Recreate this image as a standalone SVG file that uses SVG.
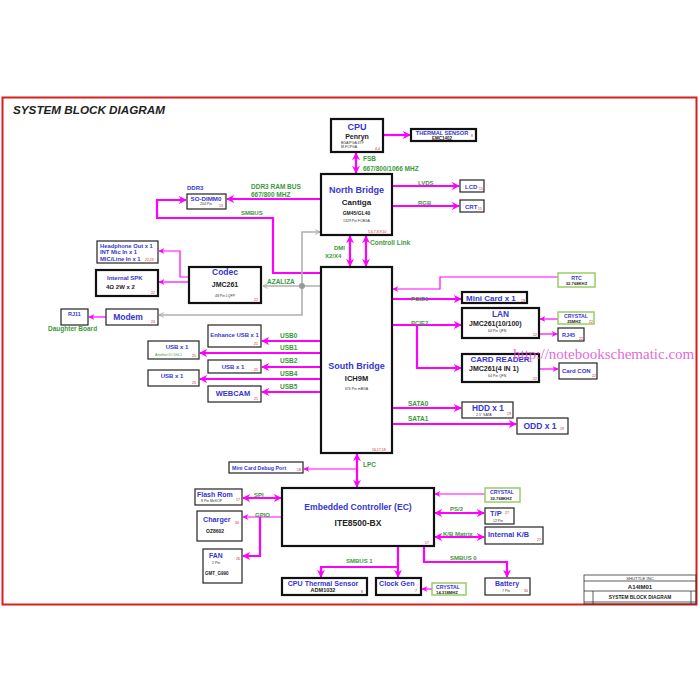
<svg xmlns="http://www.w3.org/2000/svg" width="700" height="700" viewBox="0 0 700 700">
<style>
text{font-family:"Liberation Sans",Arial,sans-serif;font-weight:bold}
.bx{fill:#fff;stroke:#222;stroke-width:1.2}
.bk{fill:#fff;stroke:#111;stroke-width:2.2}
.gb{fill:#fff;stroke:#9c6;stroke-width:1.5}
.b{fill:#3636d0}
.k{fill:#222}
.g{fill:#3a9a3a}
.r{fill:#d02020;font-size:3.5px;font-weight:normal}
.s{fill:#333;font-size:3.5px;font-weight:normal}
.n{font-weight:normal}
.wm{font-family:"Liberation Serif","Times New Roman",serif;font-weight:normal;font-size:15px;fill:#e050d0;opacity:0.85}
.m{fill:none;stroke:#f0f;stroke-width:2.2}
.mt{fill:none;stroke:#f0f;stroke-width:1.2}
.gr{fill:none;stroke:#b0b0b0;stroke-width:1.6}
</style>
<defs>
<marker id="a" viewBox="0 0 10 10" refX="9" refY="5" markerWidth="8" markerHeight="8" markerUnits="userSpaceOnUse" orient="auto-start-reverse"><path d="M0,0 L10,5 L0,10 L3,5 Z" fill="#f0f"/></marker>
<marker id="at" viewBox="0 0 10 10" refX="9" refY="5" markerWidth="6" markerHeight="6" markerUnits="userSpaceOnUse" orient="auto-start-reverse"><path d="M0,0 L10,5 L0,10 L3,5 Z" fill="#f0f"/></marker>
<marker id="ag" viewBox="0 0 10 10" refX="9" refY="5" markerWidth="6" markerHeight="6" markerUnits="userSpaceOnUse" orient="auto-start-reverse"><path d="M1,1 L9,5 L1,9" fill="none" stroke="#aaa" stroke-width="1.5"/></marker>
</defs>
<rect width="700" height="700" fill="#fff"/>
<rect x="2.5" y="97.5" width="694" height="507" fill="none" stroke="#d81e1e" stroke-width="2"/>
<text x="13" y="114" font-size="11.7" font-style="italic" fill="#222">SYSTEM BLOCK DIAGRAM</text>

<g id="connectors">
<path class="m" d="M383,135 H410" marker-end="url(#a)"/>
<path class="m" d="M356,153 V173" marker-start="url(#a)" marker-end="url(#a)"/>
<path class="m" d="M392,186 H459" marker-end="url(#a)"/>
<path class="m" d="M392,206 H459" marker-end="url(#a)"/>
<path class="m" d="M321,199 H227" marker-end="url(#a)"/>
<path class="m" d="M321,273 H273 V218 H157 V200 H186" marker-end="url(#a)"/>
<path class="m" d="M350,236 V266" marker-start="url(#a)" marker-end="url(#a)"/>
<path class="m" d="M366,236 V266" marker-start="url(#a)" marker-end="url(#a)"/>
<path class="mt" d="M189,277 H180 V251 H159" marker-end="url(#at)"/>
<path class="mt" d="M189,282 H159" marker-end="url(#at)"/>
<path class="gr" d="M320,232 H302 V315 H159" marker-start="url(#ag)" marker-end="url(#ag)"/>
<path class="gr" d="M321,286 H263" marker-end="url(#ag)"/>
<circle cx="302" cy="286" r="3" fill="#999"/>
<path class="mt" d="M106,317 H89" marker-end="url(#at)"/>
<path class="m" d="M321,341 H262" marker-end="url(#a)"/>
<path class="m" d="M321,353 H200" marker-end="url(#a)"/>
<path class="m" d="M321,367 H262" marker-end="url(#a)"/>
<path class="m" d="M321,379 H200" marker-end="url(#a)"/>
<path class="m" d="M321,392 H262" marker-end="url(#a)"/>
<path class="mt" d="M558,277 H440 V289 H393" marker-end="url(#at)"/>
<path class="m" d="M392,299 H461" marker-end="url(#a)"/>
<path class="m" d="M392,325 H461" marker-end="url(#a)"/>
<path class="m" d="M417,325 V368 H461" marker-end="url(#a)"/>
<path class="mt" d="M558,319 H540" marker-end="url(#at)"/>
<path class="mt" d="M539,334 H557" marker-end="url(#at)"/>
<path class="mt" d="M539,369 H558" marker-end="url(#at)"/>
<path class="m" d="M392,408 H461" marker-end="url(#a)"/>
<path class="m" d="M392,424 H516" marker-end="url(#a)"/>
<path class="m" d="M357,454 V487" marker-start="url(#a)" marker-end="url(#a)"/>
<path class="mt" d="M357,469 H304" marker-end="url(#at)"/>
<path class="m" d="M243,498 H281" marker-start="url(#a)" marker-end="url(#a)"/>
<path class="mt" d="M282,517 H243" marker-end="url(#at)"/>
<path class="m" d="M260,517 V556 H243" marker-end="url(#a)"/>
<path class="m" d="M398,546 V577" marker-end="url(#a)"/>
<path class="m" d="M398,567 H321 V577" marker-end="url(#a)"/>
<path class="mt" d="M432,589 H422" marker-end="url(#at)"/>
<path class="mt" d="M485,494 H435" marker-end="url(#at)"/>
<path class="m" d="M435,513 H484" marker-start="url(#a)" marker-end="url(#a)"/>
<path class="m" d="M435,537 H484" marker-start="url(#a)" marker-end="url(#a)"/>
<path class="m" d="M424,546 V562 H507 V577" marker-end="url(#a)"/>
</g>

<g id="bus-labels" font-size="6.5">
<text class="g" x="363" y="161">FSB</text>
<text class="g" x="363" y="171">667/800/1066 MHZ</text>
<text class="g" x="418" y="185" font-size="6">LVDS</text>
<text class="g" x="418" y="205" font-size="6">RGB</text>
<text class="g" x="251" y="189">DDR3 RAM BUS</text>
<text class="g" x="251" y="197">667/800 MHZ</text>
<text class="g" x="241" y="215" font-size="6">SMBUS</text>
<text class="g" x="334" y="250" font-size="6">DMI</text>
<text class="g" x="325" y="258" font-size="6">X2/X4</text>
<text class="g" x="370" y="245" font-size="6.5">Controll Link</text>
<text class="g" x="267" y="284">AZALIZA</text>
<text class="g" x="280" y="338">USB0</text>
<text class="g" x="280" y="350">USB1</text>
<text class="g" x="280" y="363">USB2</text>
<text class="g" x="280" y="376">USB4</text>
<text class="g" x="280" y="389">USB5</text>
<text class="g" x="411" y="301" font-size="6">PCIE1</text>
<text class="g" x="411" y="325" font-size="6">PCIE2</text>
<text class="g" x="408" y="406">SATA0</text>
<text class="g" x="408" y="421">SATA1</text>
<text class="g" x="363" y="467">LPC</text>
<text class="g" x="254" y="497" font-size="6">SPI</text>
<text class="g" x="255" y="517" font-size="6">GPIO</text>
<text class="g" x="346" y="563" font-size="6">SMBUS 1</text>
<text class="g" x="450" y="511" font-size="6">PS/2</text>
<text class="g" x="443" y="536" font-size="6">K/B Matrix</text>
<text class="g" x="450" y="560" font-size="6">SMBUS 0</text>
<text class="g" x="48" y="331">Daughter Board</text>
</g>

<g id="cpu"><rect class="bk" x="331" y="119" width="52" height="33"/>
<text class="b" x="357" y="130" font-size="9" text-anchor="middle">CPU</text>
<text class="k" x="357" y="139" font-size="7" text-anchor="middle">Penryn</text>
<text class="s" x="341" y="144">BGA/PGA 479</text><text class="s" x="341" y="148">M-FCPGA</text>
<text class="r" x="375" y="150">4,4</text></g>

<g id="thermal-sensor"><rect class="bk" x="411" y="129" width="65" height="12"/>
<text class="b" x="442" y="135" font-size="5.6" text-anchor="middle">THERMAL SENSOR</text>
<text class="k" x="442" y="140" font-size="4.5" text-anchor="middle">EMC1402</text>
<text class="r" x="471" y="137">8</text></g>

<g id="north-bridge"><rect class="bk" x="321" y="174" width="71" height="61"/>
<text class="b" x="356.5" y="193" font-size="9" text-anchor="middle">North Bridge</text>
<text class="k" x="356.5" y="205" font-size="8" text-anchor="middle">Cantiga</text>
<text class="k" x="356.5" y="215" font-size="5" text-anchor="middle">GM45/GL40</text>
<text class="s" x="356.5" y="222" text-anchor="middle">1329 Pin FCBGA</text>
<text class="r" x="368" y="233">5,6,7,8,9,10</text></g>

<g id="lcd"><rect class="bx" x="460" y="180" width="24" height="12"/>
<text class="b" x="465" y="188.5" font-size="6">LCD</text><text class="r" x="479" y="190">15</text></g>
<g id="crt"><rect class="bx" x="460" y="200" width="24" height="12"/>
<text class="b" x="465" y="208.5" font-size="6">CRT</text><text class="r" x="478" y="210">15</text></g>

<g id="so-dimm0"><rect class="bx" x="187" y="194" width="39" height="15"/>
<text class="b" x="187" y="190" font-size="6">DDR3</text>
<text class="b" x="206" y="200.5" font-size="6.2" text-anchor="middle">SO-DIMM0</text>
<text class="s" x="206" y="205" text-anchor="middle">204 Pin</text>
<text class="r" x="219" y="207">13</text></g>

<g id="headphone"><rect class="bx" x="97" y="241" width="61" height="22"/>
<text class="b" x="100" y="247.5" font-size="5.8">Headphone Out x 1</text>
<text class="b" x="100" y="254" font-size="5.8">INT Mic In x 1</text>
<text class="b" x="100" y="260.5" font-size="5.8">MIC/Line In x 1</text>
<text class="r" x="145" y="261">22,23</text></g>

<g id="internal-spk"><rect class="bk" x="96" y="270" width="62" height="26"/>
<text class="b" x="107" y="280" font-size="6">Internal SPK</text>
<text class="k" x="106" y="289" font-size="6">4Ω 2W x 2</text>
<text class="r" x="151" y="294">22</text></g>

<g id="codec"><rect class="bk" x="189" y="267" width="72" height="36"/>
<text class="b" x="225" y="275" font-size="8.5" text-anchor="middle">Codec</text>
<text class="k" x="225" y="287" font-size="7" text-anchor="middle">JMC261</text>
<text class="s" x="225" y="297" text-anchor="middle">48 Pin LQFP</text>
<text class="r" x="254" y="301">22</text></g>

<g id="modem"><rect class="bx" x="106" y="309" width="52" height="16"/>
<text class="b" x="128" y="320" font-size="8.5" text-anchor="middle">Modem</text>
<text class="r" x="151" y="323">24</text></g>

<g id="rj11"><rect class="bx" x="61" y="309" width="27" height="16"/>
<text class="b" x="74.5" y="316" font-size="5.5" text-anchor="middle">RJ11</text></g>

<g id="usb-enhance"><rect class="bx" x="208" y="325" width="53" height="22"/>
<text class="b" x="234.5" y="337" font-size="5.9" text-anchor="middle">Enhance USB x 1</text>
<text class="r" x="254" y="345">21</text></g>
<g id="usb-1"><rect class="bx" x="148" y="341" width="51" height="18"/>
<text class="b" x="177" y="349" font-size="6" text-anchor="middle">USB x 1</text>
<text class="g n" x="155" y="356" font-size="3.6">Another IO DhL1</text>
<text class="r" x="192" y="357">25</text></g>
<g id="usb-2"><rect class="bx" x="208" y="360" width="53" height="13"/>
<text class="b" x="233" y="368.5" font-size="6" text-anchor="middle">USB x 1</text>
<text class="r" x="254" y="371">25</text></g>
<g id="usb-4"><rect class="bx" x="148" y="370" width="51" height="16"/>
<text class="b" x="172" y="378" font-size="6" text-anchor="middle">USB x 1</text>
<text class="r" x="192" y="384">25</text></g>
<g id="webcam"><rect class="bx" x="208" y="386" width="53" height="16"/>
<text class="b" x="233" y="396" font-size="7.5" text-anchor="middle">WEBCAM</text>
<text class="r" x="254" y="400">21</text></g>

<g id="south-bridge"><rect class="bk" x="321" y="267" width="71" height="186"/>
<text class="b" x="356.5" y="369" font-size="9" text-anchor="middle">South Bridge</text>
<text class="k" x="356.5" y="381" font-size="7.5" text-anchor="middle">ICH9M</text>
<text class="s" x="356.5" y="390" text-anchor="middle">676 Pin mBGA</text>
<text class="r" x="372" y="451">16,17,18</text></g>

<g id="rtc"><rect class="gb" x="558" y="273" width="37" height="14"/>
<text class="b" x="576.5" y="279.5" font-size="5.2" text-anchor="middle">RTC</text>
<text class="k" x="576.5" y="285" font-size="4.2" text-anchor="middle">32.768KHZ</text></g>

<g id="mini-card"><rect class="bk" x="462" y="292" width="65" height="11"/>
<text class="b" x="466" y="300.5" font-size="8">Mini Card x 1</text>
<text class="r" x="521" y="302">19</text></g>

<g id="lan"><rect class="bk" x="462" y="308" width="77" height="30"/>
<text class="b" x="500.5" y="316.5" font-size="8.3" text-anchor="middle">LAN</text>
<text class="k" x="469" y="326" font-size="7">JMC261(10/100)</text>
<text class="s" x="488" y="332">64 Pin QFN</text>
<text class="r" x="533" y="336">22</text></g>

<g id="crystal-lan"><rect class="gb" x="558" y="312" width="36" height="12"/>
<text class="b" x="576" y="318" font-size="5.2" text-anchor="middle">CRYSTAL</text>
<text class="k" x="574" y="323" font-size="4.2" text-anchor="middle">25MHZ</text>
<text class="r" x="589" y="323">22</text></g>

<g id="rj45"><rect class="bx" x="558" y="328" width="26" height="13"/>
<text class="b" x="562" y="336.5" font-size="5.5">RJ45</text><text class="r" x="579" y="340">22</text></g>

<g id="card-reader"><rect class="bk" x="462" y="354" width="77" height="28"/>
<text class="b" x="500" y="362" font-size="8" text-anchor="middle">CARD READER</text>
<text class="k" x="469" y="371" font-size="7">JMC261(4 IN 1)</text>
<text class="s" x="488" y="377">64 Pin QFN</text>
<text class="r" x="533" y="380">22</text></g>

<g id="card-con"><rect class="bx" x="559" y="363" width="38" height="16"/>
<text class="b" x="562" y="373" font-size="6">Card CON</text><text class="r" x="592" y="377">22</text></g>

<text class="wm" x="513" y="359">http://notebookschematic.com</text>

<g id="hdd"><rect class="bx" x="462" y="402" width="51" height="16"/>
<text class="b" x="488" y="410.5" font-size="8.3" text-anchor="middle">HDD x 1</text>
<text class="s" x="476" y="415.5">2.5" SATA</text><text class="r" x="507" y="415">19</text></g>
<g id="odd"><rect class="bx" x="517" y="418" width="51" height="16"/>
<text class="b" x="540" y="429" font-size="8.5" text-anchor="middle">ODD x 1</text>
<text class="r" x="560" y="430">19</text></g>

<g id="debug-port"><rect class="bx" x="229" y="462" width="74" height="11"/>
<text class="b" x="232" y="469.5" font-size="5.3">Mini Card Debug Port</text>
<text class="r" x="297" y="471">18</text></g>

<g id="ec"><rect class="bk" x="282" y="488" width="152" height="58"/>
<text class="b" x="358" y="510" font-size="8.6" text-anchor="middle">Embedded Controller (EC)</text>
<text class="k" x="358" y="526" font-size="8.5" text-anchor="middle">ITE8500-BX</text>
<text class="r" x="425" y="544">17</text></g>

<g id="flash-rom"><rect class="bx" x="195" y="489" width="47" height="16"/>
<text class="b" x="197" y="496.5" font-size="7">Flash Rom</text>
<text class="s" x="201" y="502">8 Pin MxSOP</text><text class="r" x="236" y="501">17</text></g>
<g id="charger"><rect class="bx" x="197" y="511" width="45" height="30"/>
<text class="b" x="203" y="522" font-size="7.2">Charger</text>
<text class="k" x="206" y="533" font-size="5">OZ8602</text><text class="r" x="235" y="524">30</text></g>
<g id="fan"><rect class="bx" x="203" y="549" width="39" height="34"/>
<text class="b" x="209" y="558" font-size="6.8">FAN</text>
<text class="s" x="212" y="564">2 Pin</text>
<text class="k" x="205" y="575" font-size="4.5">GMT_G990</text><text class="r" x="236" y="560">26</text></g>

<g id="cpu-thermal"><rect class="bk" x="282" y="578" width="85" height="17"/>
<text class="b" x="323" y="585.5" font-size="7.1" text-anchor="middle">CPU Thermal Sensor</text>
<text class="k" x="323" y="592" font-size="5.5" text-anchor="middle">ADM1032</text>
<text class="r" x="361" y="593">8</text></g>
<g id="clock-gen"><rect class="bk" x="376" y="578" width="45" height="17"/>
<text class="b" x="379" y="585.5" font-size="7.2">Clock Gen</text><text class="r" x="415" y="592">7</text></g>
<g id="crystal-clk"><rect class="gb" x="432" y="583" width="34" height="12"/>
<text class="b" x="448" y="588.5" font-size="5.2" text-anchor="middle">CRYSTAL</text>
<text class="k" x="447" y="593.5" font-size="4.2" text-anchor="middle">14.318MHZ</text></g>

<g id="crystal-ec"><rect class="gb" x="485" y="488" width="35" height="14"/>
<text class="b" x="502" y="494" font-size="5.2" text-anchor="middle">CRYSTAL</text>
<text class="k" x="501" y="500" font-size="4.2" text-anchor="middle">32.768KHZ</text></g>
<g id="tp"><rect class="bx" x="485" y="508" width="29" height="16"/>
<text class="b" x="490" y="516" font-size="7.5">T/P</text>
<text class="s" x="493" y="521.5">12 Pin</text><text class="r" x="505" y="514">27</text></g>
<g id="internal-kb"><rect class="bx" x="485" y="527" width="58" height="17"/>
<text class="b" x="488" y="537" font-size="7.3">Internal K/B</text><text class="r" x="537" y="541">27</text></g>
<g id="battery"><rect class="bx" x="485" y="578" width="45" height="17"/>
<text class="b" x="507" y="586" font-size="7" text-anchor="middle">Battery</text>
<text class="s" x="502" y="592">7 Pin</text><text class="r" x="524" y="592">30</text></g>

<g id="title-block" fill="none" stroke="#333" stroke-width="0.8">
<rect x="584" y="575" width="112" height="29"/>
<line x1="584" y1="581" x2="696" y2="581"/>
<line x1="584" y1="591" x2="696" y2="591"/>
<line x1="593" y1="591" x2="593" y2="604"/>
<line x1="691" y1="591" x2="691" y2="604"/>
<line x1="584" y1="602" x2="696" y2="602"/>
<text class="n" x="640" y="580" font-size="4.2" fill="#333" stroke="none" text-anchor="middle">SHUTTLE INC</text>
<text x="640" y="589" font-size="6" fill="#222" stroke="none" text-anchor="middle">A14IM01</text>
<text x="640" y="598.5" font-size="4.8" fill="#222" stroke="none" text-anchor="middle">SYSTEM BLOCK DIAGRAM</text>
</g>
</svg>
